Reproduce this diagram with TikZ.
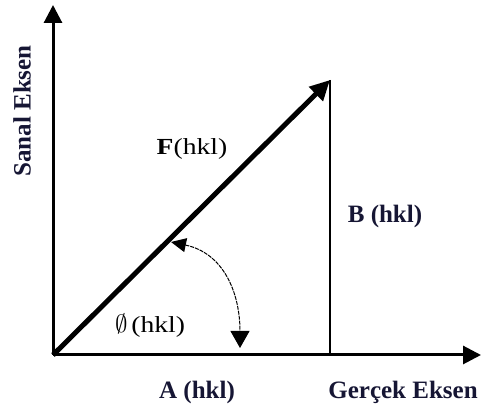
\documentclass[tikz,border=0pt]{standalone}
\usepackage{fontspec}
\setmainfont{Liberation Serif}
\newfontfamily\widefont[FakeStretch=1.2]{Liberation Serif}
\usetikzlibrary{arrows.meta,positioning}
\definecolor{lblblue}{RGB}{22,22,52}
\tikzstyle{axis}=[line width=3pt,-{Triangle[length=18pt,width=18pt]}]
\tikzstyle{vec}=[line width=5pt,-{Triangle[length=20pt,width=19pt]}]
\tikzstyle{arc}=[line width=1pt,dash pattern=on 4pt off 1pt,{Triangle[length=15pt,width=14pt]}-{Triangle[length=17pt,width=19pt]}]
\tikzstyle{lbl}=[inner sep=0pt,text=lblblue,font=\fontsize{25}{29}\selectfont\bfseries]
\tikzstyle{vlbl}=[inner sep=0pt,font=\widefont\fontsize{23}{27}\selectfont]

\begin{document}
\begin{tikzpicture}[x=1pt,y=1pt]
\useasboundingbox (0,0) rectangle (483,414);
\coordinate (O) at (53,59);
\coordinate (Ytop) at (53,409);
\coordinate (Xend) at (481,59);
\coordinate (P) at (330,334);
\coordinate (Q) at (330,59);
\coordinate (S) at (171,172);
\coordinate (E) at (240,66);
\draw[axis] (O) -- (Ytop);
\draw[axis] (O) -- (Xend);
\draw[line width=1.6pt] (P) -- (Q);
\draw[vec] (O) -- (P);
\draw[arc] (S) to[out=-12,in=90,looseness=1.1] (E);
\node[lbl,rotate=90] (sanal) at (22,303) {Sanal Eksen};
\node[vlbl] (F) at (192,265) {\textbf{F}(hkl)};
\node[lbl] (B) at (385,198) {B (hkl)};
\node[vlbl] (phi) at (150,88) {$\emptyset$\,(hkl)};
\node[lbl] (A) at (197,22) {A (hkl)};
\node[lbl] (gercek) at (403,22) {Gerçek Eksen};
\end{tikzpicture}
\end{document}
